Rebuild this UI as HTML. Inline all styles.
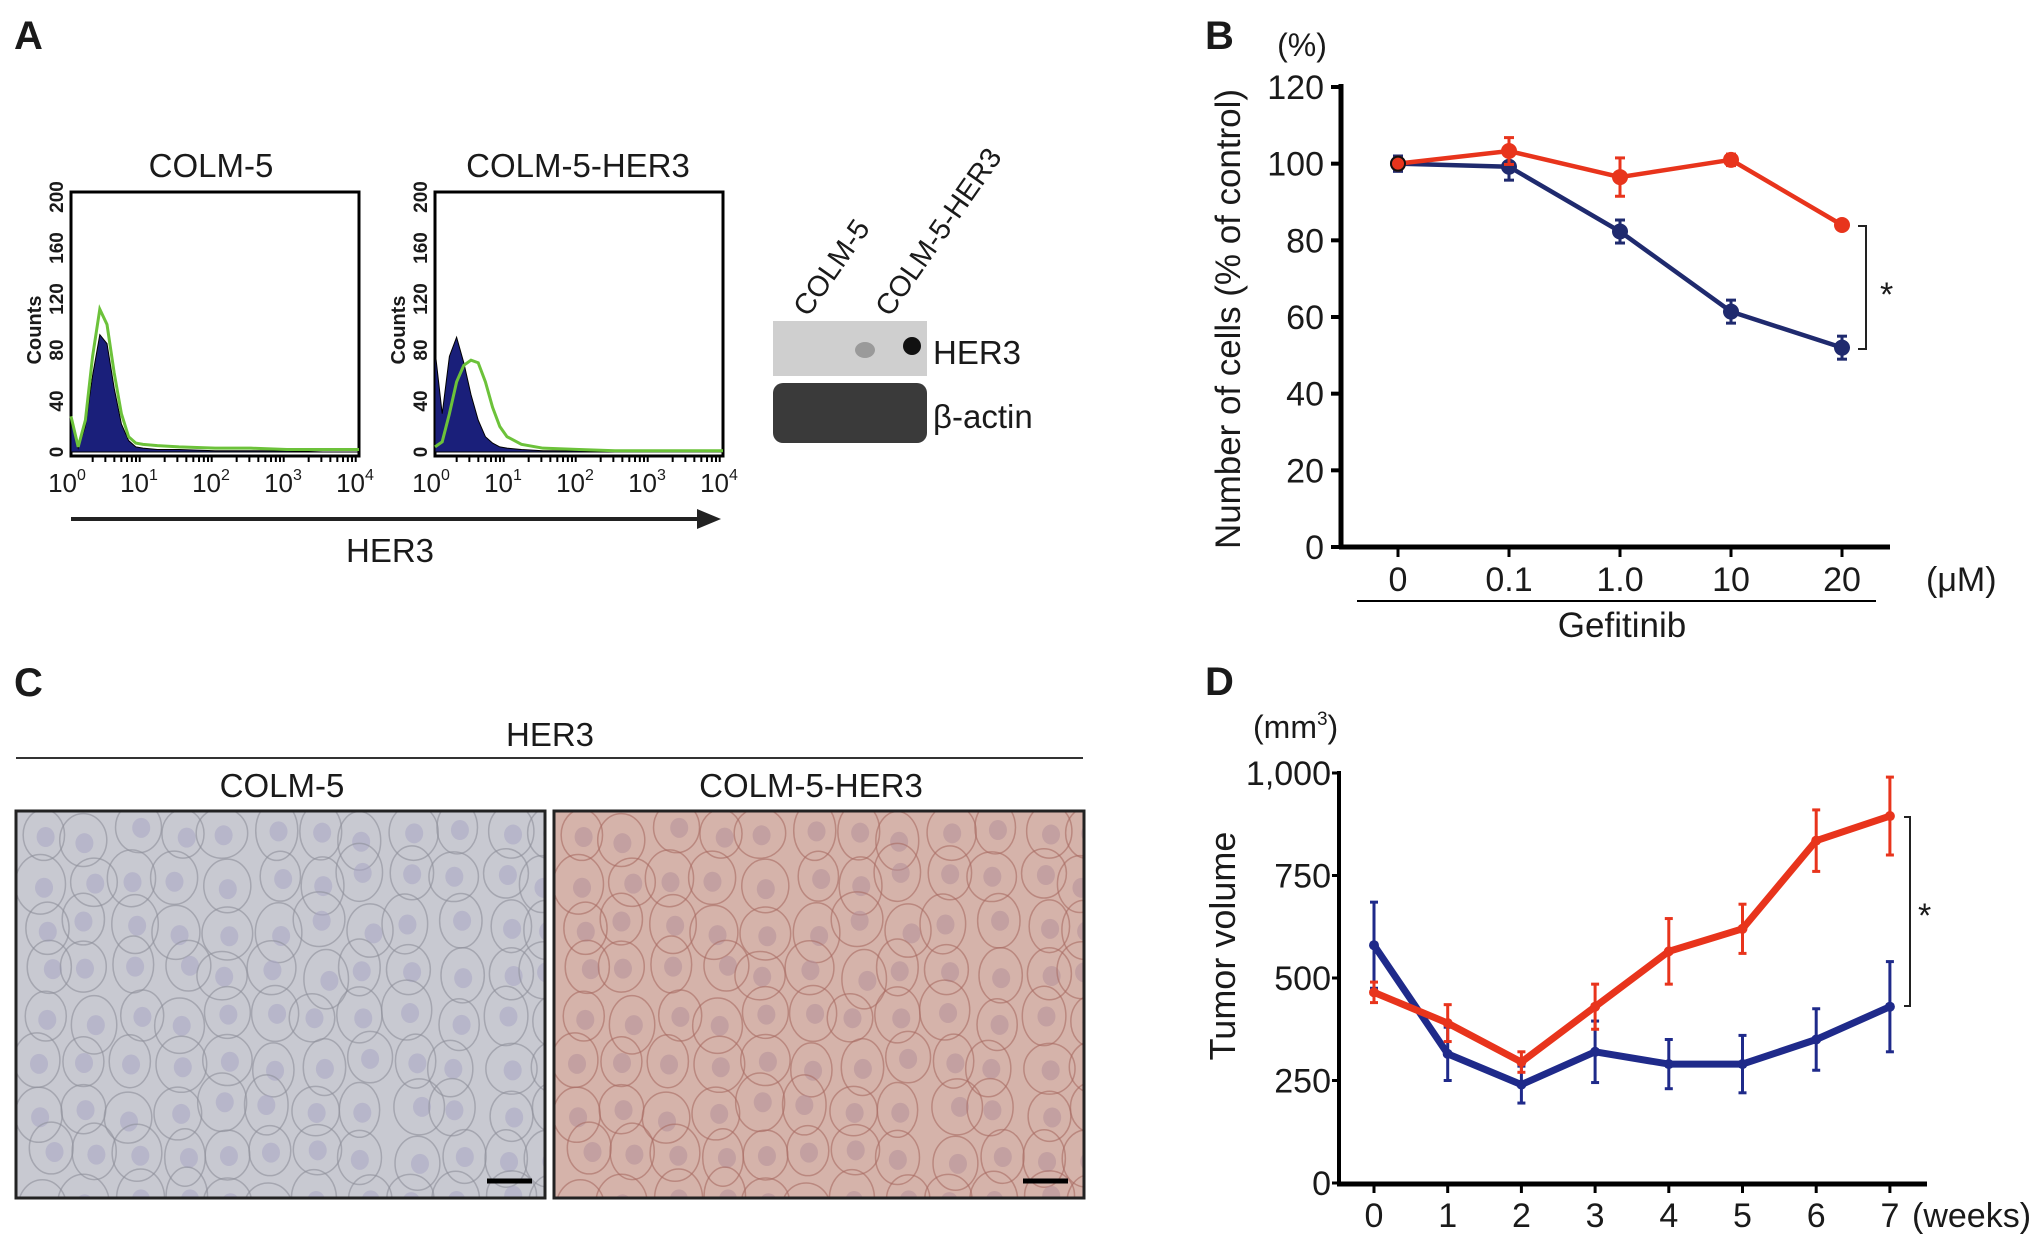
<!DOCTYPE html>
<html><head><meta charset="utf-8"><style>
html,body{margin:0;padding:0;background:#fff}
svg{display:block}
text{font-family:"Liberation Sans Narrow","Liberation Sans",sans-serif;fill:#1a1a1a}
.lbl{font-family:"Liberation Sans",sans-serif;font-weight:bold}
</style></head><body>
<svg id="fig" width="2031" height="1248" viewBox="0 0 2031 1248" xmlns="http://www.w3.org/2000/svg">
<text class="lbl" x="14" y="49" font-size="40">A</text>
<text class="lbl" x="1205" y="49" font-size="40">B</text>
<text class="lbl" x="14" y="696" font-size="40">C</text>
<text class="lbl" x="1205" y="695" font-size="40">D</text>

<!-- Panel A -->
<g id="panelA">
<text x="211" y="177" font-size="33" text-anchor="middle">COLM-5</text>
<text x="578" y="177" font-size="33" text-anchor="middle">COLM-5-HER3</text>
<g id="hist1"></g>
<g id="hist2"></g>
<line x1="71" y1="519" x2="705" y2="519" stroke="#222" stroke-width="4"/>
<polygon points="721,519 697,509 697,529" fill="#222"/>
<text x="390" y="562" font-size="33" text-anchor="middle">HER3</text>
<text transform="translate(808,318) rotate(-55)" font-size="29">COLM-5</text>
<text transform="translate(890,318) rotate(-55)" font-size="29">COLM-5-HER3</text>
<rect x="773" y="321" width="154" height="55" fill="#cfcfcf"/>
<ellipse cx="865" cy="350" rx="10" ry="8" fill="#777" opacity="0.6"/>
<ellipse cx="912" cy="346" rx="9" ry="9" fill="#111"/>
<rect x="773" y="383" width="154" height="60" rx="10" fill="#3a3a3a"/>
<text x="933" y="364" font-size="33">HER3</text>
<text x="933" y="428" font-size="33">β-actin</text>
</g>

<!-- Panel C -->
<g>
<text x="550" y="746" font-size="33" text-anchor="middle">HER3</text>
<line x1="16" y1="758" x2="1083" y2="758" stroke="#333" stroke-width="2"/>
<text x="282" y="797" font-size="33" text-anchor="middle">COLM-5</text>
<text x="811" y="797" font-size="33" text-anchor="middle">COLM-5-HER3</text>
<svg x="16" y="811" width="529" height="387" id="micro1"><rect width="529" height="387" fill="#c8c9d1"/></svg>
<svg x="554" y="811" width="530" height="387" id="micro2"><rect width="530" height="387" fill="#d5b3aa"/></svg>
<rect x="16" y="811" width="529" height="387" fill="none" stroke="#222" stroke-width="3"/>
<rect x="554" y="811" width="530" height="387" fill="none" stroke="#222" stroke-width="3"/>
<line x1="487" y1="1181" x2="532" y2="1181" stroke="#000" stroke-width="5"/>
<line x1="1023" y1="1181" x2="1068" y2="1181" stroke="#000" stroke-width="5"/>
</g>

<g id="panelB"></g>
<g id="panelD"></g>
</svg>
<script>
// ---------- Panel B data ----------
const bCats = ["0","0.1","1.0","10","20"];
const bRed = [100, 103.3, 96.5, 101, 84];
const bRedErr = [1, 3.5, 5, 1.5, 1];
const bBlue = [100, 99.2, 82.3, 61.4, 52];
const bBlueErr = [2, 3.5, 3, 3, 3];
const bTicks = [0,20,40,60,80,100,120];
// ---------- Panel D data ----------
const dCats = ["0","1","2","3","4","5","6","7"];
const dRed = [465, 390, 295, 430, 565, 620, 835, 895];
const dRedErr = [25, 45, 25, 55, 80, 60, 75, 95];
const dBlue = [580, 315, 240, 320, 290, 290, 350, 430];
const dBlueErr = [105, 65, 45, 75, 60, 70, 75, 110];
const dTicks = [0,250,500,750,1000];
const dTickLabels = ["0","250","500","750","1,000"];
// ---------- Panel A histogram data (log10 intensity bins, counts) ----------
const h1Bins = [0,0.1,0.2,0.3,0.4,0.5,0.6,0.7,0.8,0.9,1.0,1.2,1.5,2,2.5,3,3.5,4];
const h1Blue = [25,3,20,60,92,85,50,22,9,4,3,2,2,1,1,1,0,0];
const h1Green = [28,4,25,75,112,100,62,30,12,7,6,5,4,3,3,2,2,2];
const h2Bins = [0,0.1,0.2,0.3,0.4,0.5,0.6,0.7,0.8,0.9,1.0,1.2,1.5,2,2.5,3,3.5,4];
const h2Blue = [80,30,75,90,70,45,25,12,7,4,3,2,1,1,0,0,0,0];
const h2Green = [4,8,30,55,68,72,70,55,35,20,12,6,3,2,1,1,1,1];

const NS="http://www.w3.org/2000/svg";
function mk(parent, tag, attrs){
  const e=document.createElementNS(NS,tag);
  for(const k in attrs) e.setAttribute(k,attrs[k]);
  parent.appendChild(e);
  return e;
}

// ---------- Panel B ----------
(function(){
  const g=document.getElementById('panelB');
  const x=i=>1398+i*111;
  const y=v=>547-v*(460/120);
  let e;
  e=mk(g,'line',{x1:1341,y1:84,x2:1341,y2:549,stroke:'#000','stroke-width':5});
   
  e=mk(g,'line',{x1:1339,y1:547,x2:1890,y2:547,stroke:'#000','stroke-width':5});
   
  bTicks.forEach(t=>{
    mk(g,'line',{x1:1331,y1:y(t),x2:1341,y2:y(t),stroke:'#000','stroke-width':4});
    e=mk(g,'text',{x:1324,y:y(t)+12,'font-size':34,'text-anchor':'end'});
    e.textContent=t;
     
  });
  bCats.forEach((c,i)=>{
    mk(g,'line',{x1:x(i),y1:547,x2:x(i),y2:557,stroke:'#000','stroke-width':3});
    e=mk(g,'text',{x:x(i),y:591,'font-size':34,'text-anchor':'middle'});
    e.textContent=c;
     
  });
  e=mk(g,'text',{x:1926,y:591,'font-size':34}); e.textContent='(μM)';
   
  e=mk(g,'line',{x1:1357,y1:601,x2:1876,y2:601,stroke:'#000','stroke-width':2});
   
  e=mk(g,'text',{x:1622,y:637,'font-size':35,'text-anchor':'middle'}); e.textContent='Gefitinib';
   
  e=mk(g,'text',{x:1302,y:56,'font-size':32,'text-anchor':'middle'}); e.textContent='(%)';
   
  e=mk(g,'text',{transform:'translate(1240,319) rotate(-90)','font-size':35,'text-anchor':'middle',textLength:460,style:'font-family:"Liberation Sans",sans-serif'});
  e.textContent='Number of cells (% of control)';
   
  function series(vals,errs,col,name){
    const pts=vals.map((v,i)=>x(i)+','+y(v)).join(' ');
    let p=mk(g,'polyline',{points:pts,fill:'none',stroke:col,'stroke-width':4.5});
     
    vals.forEach((v,i)=>{
      const hi=y(v+errs[i]), lo=y(v-errs[i]);
      mk(g,'line',{x1:x(i),y1:hi,x2:x(i),y2:lo,stroke:col,'stroke-width':3});
      mk(g,'line',{x1:x(i)-5,y1:hi,x2:x(i)+5,y2:hi,stroke:col,'stroke-width':3});
      mk(g,'line',{x1:x(i)-5,y1:lo,x2:x(i)+5,y2:lo,stroke:col,'stroke-width':3});
      const c=mk(g,'circle',{cx:x(i),cy:y(v),r:8,fill:col});
       
    });
  }
  series(bBlue,bBlueErr,'#1f2a6e','b-colm5');
  series(bRed,bRedErr,'#e8341c','b-colm5-her3');
  mk(g,'circle',{cx:x(0),cy:y(100),r:7,fill:'#e8341c',stroke:'#111','stroke-width':2});
  e=mk(g,'path',{d:'M1858,226 H1866 V349 H1858',fill:'none',stroke:'#222','stroke-width':2});
   
  e=mk(g,'text',{x:1880,y:306,'font-size':34}); e.textContent='*';
   
})();

// ---------- Panel D ----------
(function(){
  const g=document.getElementById('panelD');
  const x=i=>1374+i*73.7;
  const y=v=>1183-v*(410/1000);
  let e;
  e=mk(g,'line',{x1:1339,y1:771,x2:1339,y2:1185,stroke:'#000','stroke-width':4});
   
  e=mk(g,'line',{x1:1337,y1:1184,x2:1927,y2:1184,stroke:'#000','stroke-width':5});
   
  dTicks.forEach((t,i)=>{
    mk(g,'line',{x1:1332,y1:y(t),x2:1339,y2:y(t),stroke:'#000','stroke-width':3});
    e=mk(g,'text',{x:1331,y:y(t)+12,'font-size':34,'text-anchor':'end'});
    e.textContent=dTickLabels[i];
     
  });
  dCats.forEach((c,i)=>{
    mk(g,'line',{x1:x(i),y1:1184,x2:x(i),y2:1193,stroke:'#000','stroke-width':3});
    e=mk(g,'text',{x:x(i),y:1227,'font-size':34,'text-anchor':'middle'});
    e.textContent=c;
     
  });
  e=mk(g,'text',{x:1912,y:1227,'font-size':34}); e.textContent='(weeks)';
   
  e=mk(g,'text',{x:1253,y:738,'font-size':32}); e.innerHTML='(mm<tspan font-size="19" dy="-13">3</tspan><tspan dy="13">)</tspan>';
   
  e=mk(g,'text',{transform:'translate(1235,946) rotate(-90)','font-size':36,'text-anchor':'middle',style:'font-family:"Liberation Sans",sans-serif'});
  e.textContent='Tumor volume';
   
  function series(vals,errs,col,name){
    const pts=vals.map((v,i)=>x(i)+','+y(v)).join(' ');
    let p=mk(g,'polyline',{points:pts,fill:'none',stroke:col,'stroke-width':7,'stroke-linejoin':'round'});
     
    vals.forEach((v,i)=>{
      const hi=y(v+errs[i]), lo=y(v-errs[i]);
      mk(g,'line',{x1:x(i),y1:hi,x2:x(i),y2:lo,stroke:col,'stroke-width':3});
      mk(g,'line',{x1:x(i)-4,y1:hi,x2:x(i)+4,y2:hi,stroke:col,'stroke-width':3});
      mk(g,'line',{x1:x(i)-4,y1:lo,x2:x(i)+4,y2:lo,stroke:col,'stroke-width':3});
      const c=mk(g,'circle',{cx:x(i),cy:y(v),r:5,fill:col});
       
    });
  }
  series(dBlue,dBlueErr,'#1f2a8a','d-colm5');
  series(dRed,dRedErr,'#e8341c','d-colm5-her3');
  e=mk(g,'path',{d:'M1904,817 H1910 V1006 H1904',fill:'none',stroke:'#222','stroke-width':2});
   
  e=mk(g,'text',{x:1918,y:927,'font-size':34}); e.textContent='*';
   
})();

// ---------- Panel A histograms ----------
function hist(id,x0,bins,blue,green){
  const g=document.getElementById(id);
  const W=288, top=192, bot=456;
  const x=v=>x0+v*(W/4);
  const y=c=>452-c*(255/200);
  let e;
  e=mk(g,'rect',{x:x0,y:top,width:W,height:bot-top,fill:'none',stroke:'#000','stroke-width':3});
   
  let d='M'+x(bins[0])+','+y(0);
  bins.forEach((b,i)=>{d+=' L'+x(b)+','+y(blue[i]);});
  d+=' L'+x(bins[bins.length-1])+','+y(0)+'Z';
  e=mk(g,'path',{d:d,fill:'#1a1f7a',stroke:'#000','stroke-width':1});
   
  e=mk(g,'polyline',{points:bins.map((b,i)=>x(b)+','+y(green[i])).join(' '),fill:'none',stroke:'#6cc23a','stroke-width':3});
   
  [0,40,80,120,160,200].forEach(t=>{
    e=mk(g,'text',{transform:'translate('+(x0-8)+','+y(t)+') rotate(-90)','font-size':19,'text-anchor':'middle',style:'font-family:"Liberation Sans",sans-serif;font-weight:bold'});
    e.textContent=t;
     
  });
  e=mk(g,'text',{transform:'translate('+(x0-30)+',330) rotate(-90)','font-size':20,'text-anchor':'middle',style:'font-family:"Liberation Sans",sans-serif;font-weight:bold'});
  e.textContent='Counts';
   
  for(let k=0;k<=4;k++){
    e=mk(g,'text',{x:x(k)-4,y:492,'font-size':26,'text-anchor':'middle'});
    e.innerHTML='10<tspan font-size="16" dy="-12">'+k+'</tspan>';
     
    for(let m=2;m<10&&k<4;m++){
      mk(g,'line',{x1:x(k+Math.log10(m)),y1:bot,x2:x(k+Math.log10(m)),y2:bot+6,stroke:'#000','stroke-width':2});
    }
  }
}
hist('hist1',71,h1Bins,h1Blue,h1Green);
hist('hist2',435,h2Bins,h2Blue,h2Green);

// ---------- micrograph texture (decorative cells) ----------
function cells(id,stroke,nuc){
  const s=document.getElementById(id);
  let seed=7;
  const rnd=()=>{seed=(seed*9301+49297)%233280;return seed/233280;};
  for(let r=0;r<9;r++)for(let c=0;c<12;c++){
    const cx=c*46+20+rnd()*16, cy=r*46+15+rnd()*16;
    mk(s,'ellipse',{cx:cx,cy:cy,rx:20+rnd()*6,ry:24+rnd()*6,fill:'none',stroke:stroke,'stroke-width':1.5,opacity:0.6});
    mk(s,'ellipse',{cx:cx+rnd()*4,cy:cy+rnd()*4,rx:9,ry:10,fill:nuc,opacity:0.55});
  }
}
cells('micro1','#8e8f99','#a9a6c4');
cells('micro2','#a86a62','#b58f99');
</script>
</body></html>
